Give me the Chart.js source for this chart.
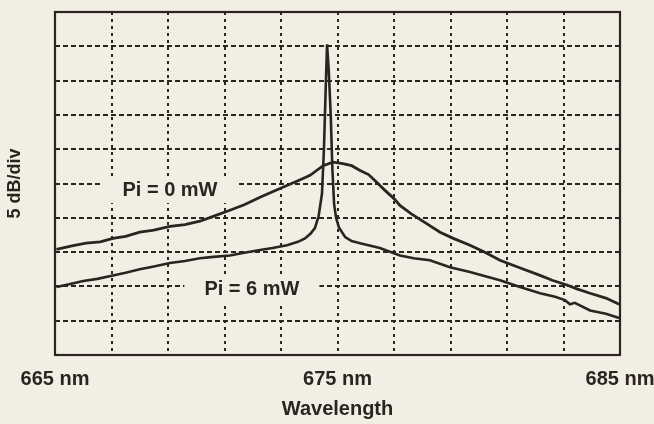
<!DOCTYPE html>
<html>
<head>
<meta charset="utf-8">
<script src="https://cdn.jsdelivr.net/npm/chart.js@4.4.1/dist/chart.umd.min.js"></script>
<style>
  html, body { margin: 0; padding: 0; background: #f3eee4; }
</style>
</head>
<body>
<canvas id="spectrum" width="654" height="424"></canvas>
<script>
  // wavelength (nm) and relative level (dB above bottom of screen), 5 dB/div
  const pi0Wavelength = [665.05, 665.6, 666.1, 666.6, 667.05, 667.5, 668.0, 668.5, 669.07, 669.6,
    670.13, 670.6, 671.19, 671.7, 672.26, 672.7, 673.21, 673.6, 674.03, 674.49, 674.84, 675.19,
    675.5, 675.8, 676.1, 676.33, 676.68, 677.0, 677.21, 677.6, 678.1, 678.63, 679.1, 679.69,
    680.2, 680.75, 681.4, 682.17, 682.6, 683.12, 683.5, 683.94, 684.5, 684.97];
  const pi0Level = [15.4, 15.9, 16.3, 16.5, 17.0, 17.3, 17.9, 18.2, 18.75, 19.0,
    19.5, 20.2, 21.1, 21.9, 23.0, 23.8, 24.7, 25.4, 26.2, 27.6, 28.1, 27.9,
    27.6, 26.9, 26.3, 25.4, 24.0, 22.8, 21.8, 20.6, 19.3, 17.9, 17.0, 16.0,
    15.0, 13.8, 12.8, 11.6, 10.9, 10.2, 9.6, 9.0, 8.3, 7.4];

  const pi6Wavelength = [665.05, 665.5, 666.0, 666.5, 667.05, 667.5, 668.0, 668.5, 669.07, 669.6,
    670.13, 670.6, 671.19, 671.7, 672.26, 672.7, 673.21, 673.6, 673.85, 674.05, 674.2, 674.33,
    674.45, 674.52, 674.58, 674.63, 674.69, 674.76, 674.82, 674.88, 674.95, 675.05, 675.27,
    675.5, 675.8, 676.5, 677.21, 677.7, 678.27, 678.98, 679.69, 680.2, 680.75, 681.46, 682.17,
    682.7, 683.05, 683.23, 683.4, 683.94, 684.5, 684.97];
  const pi6Level = [9.9, 10.3, 10.8, 11.1, 11.6, 12.0, 12.5, 12.9, 13.4, 13.7,
    14.1, 14.3, 14.5, 14.9, 15.3, 15.6, 16.0, 16.5, 17.0, 17.7, 18.5, 20.2,
    23.5, 30.0, 38.5, 45.3, 41.5, 35.0, 27.0, 22.0, 20.0, 18.6, 17.2,
    16.6, 16.3, 15.6, 14.5, 14.1, 13.8, 12.8, 12.1, 11.5, 10.9, 9.9, 9.0,
    8.5, 8.0, 7.4, 7.6, 6.5, 6.0, 5.4];

  const tickValues = [665, 675, 685];
  const tickLabels = ['665 nm', '675 nm', '685 nm'];

  const curveLabels = ['Pi = 0 mW', 'Pi = 6 mW'];
  const curveLabelAt = [[669.07, 24.05], [671.97, 9.6]];

  const ink = '#2b2522';
  const paper = '#f3eee4';

  function toPoints(xs, ys) {
    return xs.map((x, i) => ({ x: x, y: ys[i] }));
  }

  // solid frame around the plot area
  const frame = {
    id: 'frame',
    afterDraw(chart) {
      const { ctx, chartArea: a } = chart;
      ctx.save();
      ctx.strokeStyle = ink;
      ctx.lineWidth = 2.2;
      ctx.strokeRect(a.left, a.top, a.right - a.left, a.bottom - a.top);
      ctx.restore();
    }
  };

  // curve names sitting on a blank patch over the grid
  const curveNames = {
    id: 'curveNames',
    beforeDatasetsDraw(chart) {
      const { ctx, scales } = chart;
      ctx.save();
      ctx.font = 'bold 20px "Liberation Sans", Arial, sans-serif';
      ctx.textAlign = 'center';
      ctx.textBaseline = 'middle';
      curveLabels.forEach((text, i) => {
        const x = scales.x.getPixelForValue(curveLabelAt[i][0]);
        const y = scales.y.getPixelForValue(curveLabelAt[i][1]);
        const w = ctx.measureText(text).width + 40;
        ctx.fillStyle = paper;
        ctx.fillRect(x - w / 2, y - 13, w, 26);
        ctx.fillStyle = ink;
        ctx.fillText(text, x, y);
      });
      ctx.restore();
    }
  };

  new Chart(document.getElementById('spectrum'), {
    type: 'line',
    data: {
      datasets: [
        {
          label: curveLabels[0],
          data: toPoints(pi0Wavelength, pi0Level),
          borderColor: ink,
          borderWidth: 2.8,
          pointRadius: 0,
          tension: 0
        },
        {
          label: curveLabels[1],
          data: toPoints(pi6Wavelength, pi6Level),
          borderColor: ink,
          borderWidth: 2.6,
          pointRadius: 0,
          tension: 0
        }
      ]
    },
    options: {
      responsive: false,
      animation: false,
      events: [],
      layout: { padding: { top: 12, right: 34, bottom: 3, left: 0 } },
      plugins: {
        legend: { display: false },
        tooltip: { enabled: false }
      },
      scales: {
        x: {
          type: 'linear',
          min: 665,
          max: 685,
          afterFit(scale) {
            scale.height = 66;
            // let the end labels hang past the plot edges
            scale.paddingLeft = 0;
            scale.paddingRight = 0;
          },
          afterBuildTicks(scale) {
            scale.ticks = [];
            for (let v = 665; v <= 685; v += 2) scale.ticks.push({ value: v });
          },
          ticks: {
            autoSkip: false,
            maxRotation: 0,
            padding: 12,
            color: ink,
            font: { family: '"Liberation Sans", Arial, sans-serif', size: 20, weight: 'bold' },
            callback(value) {
              const i = tickValues.indexOf(value);
              return i >= 0 ? tickLabels[i] : '';
            }
          },
          grid: { color: ink, lineWidth: 2, drawTicks: false },
          border: { display: false, dash: [3, 4] },
          title: {
            display: true,
            text: 'Wavelength',
            color: ink,
            padding: { top: 0, bottom: 0 },
            font: { family: '"Liberation Sans", Arial, sans-serif', size: 20, weight: 'bold' }
          }
        },
        y: {
          min: 0,
          max: 50,
          afterFit(scale) { scale.width = 55; },
          ticks: { display: false, stepSize: 5 },
          grid: { color: ink, lineWidth: 2, drawTicks: false },
          border: { display: false, dash: [5, 3] },
          title: {
            display: true,
            text: '5 dB/div',
            color: ink,
            padding: { top: 4, bottom: 0 },
            font: { family: '"Liberation Sans", Arial, sans-serif', size: 18, weight: 'bold' }
          }
        }
      }
    },
    plugins: [curveNames, frame]
  });
</script>
</body>
</html>
